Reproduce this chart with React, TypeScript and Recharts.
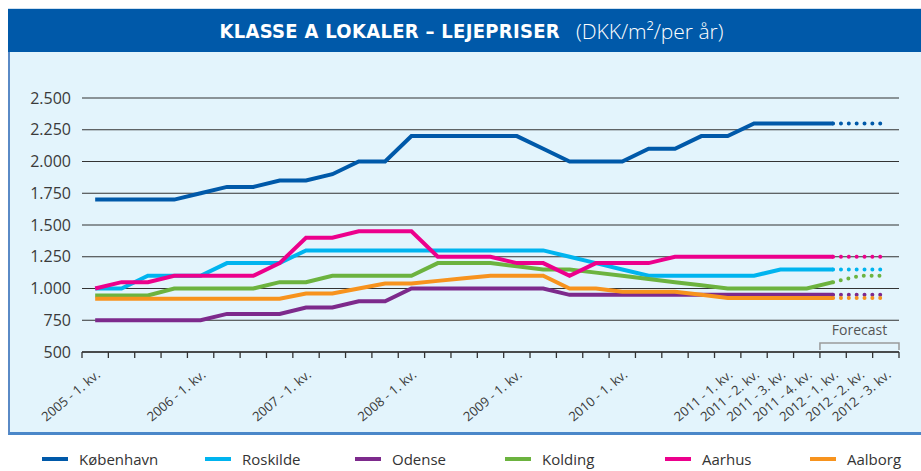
import { LineChart, Line, XAxis, YAxis, CartesianGrid } from 'recharts'

const quarters = [
  '2005 - 1. kv.', '2005 - 2. kv.', '2005 - 3. kv.', '2005 - 4. kv.',
  '2006 - 1. kv.', '2006 - 2. kv.', '2006 - 3. kv.', '2006 - 4. kv.',
  '2007 - 1. kv.', '2007 - 2. kv.', '2007 - 3. kv.', '2007 - 4. kv.',
  '2008 - 1. kv.', '2008 - 2. kv.', '2008 - 3. kv.', '2008 - 4. kv.',
  '2009 - 1. kv.', '2009 - 2. kv.', '2009 - 3. kv.', '2009 - 4. kv.',
  '2010 - 1. kv.', '2010 - 2. kv.', '2010 - 3. kv.', '2010 - 4. kv.',
  '2011 - 1. kv.', '2011 - 2. kv.', '2011 - 3. kv.', '2011 - 4. kv.',
  '2012 - 1. kv.', '2012 - 2. kv.', '2012 - 3. kv.',
]

// only these quarters get a label on the axis
const labelledQuarters = [
  '2005 - 1. kv.', '2006 - 1. kv.', '2007 - 1. kv.', '2008 - 1. kv.',
  '2009 - 1. kv.', '2010 - 1. kv.',
  '2011 - 1. kv.', '2011 - 2. kv.', '2011 - 3. kv.', '2011 - 4. kv.',
  '2012 - 1. kv.', '2012 - 2. kv.', '2012 - 3. kv.',
]

const forecastStart = '2012 - 1. kv.'
const yTicks = [500, 750, 1000, 1250, 1500, 1750, 2000, 2250, 2500]

// actual rents, 2005 1. kv. -> 2012 1. kv.
const kobenhavn = [1700, 1700, 1700, 1700, 1750, 1800, 1800, 1850, 1850, 1900, 2000, 2000, 2200, 2200, 2200, 2200, 2200, 2100, 2000, 2000, 2000, 2100, 2100, 2200, 2200, 2300, 2300, 2300, 2300]
const roskilde = [1000, 1000, 1100, 1100, 1100, 1200, 1200, 1200, 1300, 1300, 1300, 1300, 1300, 1300, 1300, 1300, 1300, 1300, 1250, 1200, 1150, 1100, 1100, 1100, 1100, 1100, 1150, 1150, 1150]
const odense = [750, 750, 750, 750, 750, 800, 800, 800, 850, 850, 900, 900, 1000, 1000, 1000, 1000, 1000, 1000, 950, 950, 950, 950, 950, 950, 950, 950, 950, 950, 950]
const kolding = [945, 945, 945, 1000, 1000, 1000, 1000, 1050, 1050, 1100, 1100, 1100, 1100, 1200, 1200, 1200, 1175, 1150, 1150, 1125, 1100, 1075, 1050, 1025, 1000, 1000, 1000, 1000, 1050]
const aarhus = [1000, 1050, 1050, 1100, 1100, 1100, 1100, 1200, 1400, 1400, 1450, 1450, 1450, 1250, 1250, 1250, 1200, 1200, 1100, 1200, 1200, 1200, 1250, 1250, 1250, 1250, 1250, 1250, 1250]
const aalborg = [920, 920, 920, 920, 920, 920, 920, 920, 960, 960, 1000, 1040, 1040, 1060, 1080, 1100, 1100, 1100, 1000, 1000, 975, 975, 975, 950, 925, 925, 925, 925, 925]

// forecast, 2012 1. kv. -> 2012 3. kv.
const kobenhavnForecast = [2300, 2300, 2300]
const roskildeForecast = [1150, 1150, 1150]
const odenseForecast = [950, 950, 950]
const koldingForecast = [1050, 1100, 1100]
const aarhusForecast = [1250, 1250, 1250]
const aalborgForecast = [925, 925, 925]

const series = [
  { name: 'København', color: '#0059a9', actual: kobenhavn, forecast: kobenhavnForecast },
  { name: 'Roskilde', color: '#00b4ef', actual: roskilde, forecast: roskildeForecast },
  { name: 'Odense', color: '#7d2a8c', actual: odense, forecast: odenseForecast },
  { name: 'Kolding', color: '#6cb33f', actual: kolding, forecast: koldingForecast },
  { name: 'Aarhus', color: '#ec008c', actual: aarhus, forecast: aarhusForecast },
  { name: 'Aalborg', color: '#f7931e', actual: aalborg, forecast: aalborgForecast },
]

const forecastIndex = quarters.indexOf(forecastStart)

const data = quarters.map((q, i) => {
  const row: Record<string, string | number | null> = { q }
  series.forEach((s) => {
    row[s.name] = i < s.actual.length ? s.actual[i] : null
    row[s.name + '_f'] = i >= forecastIndex ? s.forecast[i - forecastIndex] ?? null : null
  })
  return row
})

const W = 921
const PLOT_LEFT = 82
const PLOT_RIGHT = 899
const PLOT_TOP = 98
const step = (PLOT_RIGHT - PLOT_LEFT) / quarters.length

const font = "'Open Sans', 'DejaVu Sans', sans-serif"

const fmt = (v: number) => String(v).replace(/\B(?=(\d{3})+(?!\d))/g, '.')

function QuarterTick(props: any) {
  const { x, y, payload, index } = props
  const label = payload.value as string
  const left = x - step / 2
  const lastRight = x + step / 2
  return (
    <g>
      <line x1={left} x2={left} y1={y} y2={y + 6} stroke="#333" strokeWidth={1.3} />
      {index === quarters.length - 1 && (
        <line x1={lastRight} x2={lastRight} y1={y} y2={y + 6} stroke="#333" strokeWidth={1.3} />
      )}
      {labelledQuarters.includes(label) && (
        <text
          x={x + 6}
          y={y + 24}
          transform={`rotate(-40 ${x + 6} ${y + 24})`}
          textAnchor="end"
          fontFamily={font}
          fontSize={13}
          fill="#3a3a3a"
        >
          {label}
        </text>
      )}
      {label === forecastStart && (
        <g>
          <path
            d={`M${left},${y - 2} V${y - 9} H${PLOT_RIGHT} V${y - 2}`}
            fill="none"
            stroke="#9a9a9a"
            strokeWidth={1.5}
          />
          <text
            x={(left + PLOT_RIGHT) / 2}
            y={y - 17}
            textAnchor="middle"
            fontFamily={font}
            fontSize={14}
            fill="#555"
          >
            Forecast
          </text>
        </g>
      )}
    </g>
  )
}

const legendLeft = [42, 205, 355, 505, 665, 810]

export default function App() {
  return (
    <div
      style={{
        position: 'absolute',
        left: 0,
        top: 0,
        width: W,
        height: 471,
        background: '#fff',
        overflow: 'hidden',
      }}
    >
      <div style={{ position: 'absolute', left: 8, top: 8, right: 0, height: 1, background: '#cfe0f0' }} />
      <div
        style={{
          position: 'absolute',
          left: 8,
          top: 9,
          right: 0,
          height: 43,
          background: '#0059a9',
          color: '#fff',
          display: 'flex',
          alignItems: 'center',
          justifyContent: 'center',
          paddingLeft: 14,
          boxSizing: 'border-box',
        }}
      >
        <span
          style={{
            fontFamily: "'DejaVu Sans Condensed', 'Liberation Sans Narrow', sans-serif",
            fontWeight: 'bold',
            fontSize: 20,
            letterSpacing: 0.3,
          }}
        >
          KLASSE A LOKALER – LEJEPRISER
        </span>
        <span style={{ fontFamily: font, fontWeight: 300, fontSize: 21, marginLeft: 16 }}>
          (DKK/m²/per år)
        </span>
      </div>
      <div
        style={{
          position: 'absolute',
          left: 8,
          top: 52,
          right: 0,
          height: 383,
          background: '#e3f4fc',
          borderLeft: '2px solid #5a8ac6',
          borderBottom: '3px solid #4a87c9',
          boxSizing: 'border-box',
        }}
      />
      <div style={{ position: 'absolute', left: 0, top: 0 }}>
        <LineChart
          width={W}
          height={440}
          data={data}
          margin={{ top: PLOT_TOP, right: W - PLOT_RIGHT, bottom: 28, left: 0 }}
        >
          <CartesianGrid vertical={false} stroke="#333" strokeWidth={1.2} />
          <XAxis
            dataKey="q"
            interval={0}
            height={60}
            padding={{ left: step / 2, right: step / 2 }}
            axisLine={{ stroke: '#333', strokeWidth: 1.3 }}
            tickLine={false}
            tickSize={0}
            tickMargin={0}
            tick={<QuarterTick />}
          />
          <YAxis
            type="number"
            domain={[500, 2500]}
            ticks={yTicks}
            interval={0}
            width={PLOT_LEFT}
            axisLine={false}
            tickLine={false}
            tickSize={0}
            tickMargin={11}
            tickFormatter={fmt}
            tick={{ fontFamily: font, fontSize: 16, fill: '#3a3a3a' }}
          />
          {series.map((s) => (
            <Line
              key={s.name}
              dataKey={s.name}
              stroke={s.color}
              strokeWidth={4}
              dot={false}
              activeDot={false}
              strokeLinejoin="miter"
              isAnimationActive={false}
            />
          ))}
          {series.map((s) => (
            <Line
              key={s.name + '_f'}
              dataKey={s.name + '_f'}
              stroke={s.color}
              strokeWidth={4}
              strokeDasharray="0 7.85"
              strokeLinecap="round"
              dot={false}
              activeDot={false}
              legendType="none"
              isAnimationActive={false}
            />
          ))}
        </LineChart>
      </div>
      {series.map((s, i) => (
        <div
          key={s.name}
          style={{
            position: 'absolute',
            left: legendLeft[i],
            top: 449,
            height: 20,
            lineHeight: '20px',
            display: 'flex',
            alignItems: 'center',
            fontFamily: font,
            fontSize: 15,
            color: '#333',
          }}
        >
          <span style={{ display: 'inline-block', width: 26, height: 4, background: s.color, marginRight: 11 }} />
          {s.name}
        </div>
      ))}
    </div>
  )
}
